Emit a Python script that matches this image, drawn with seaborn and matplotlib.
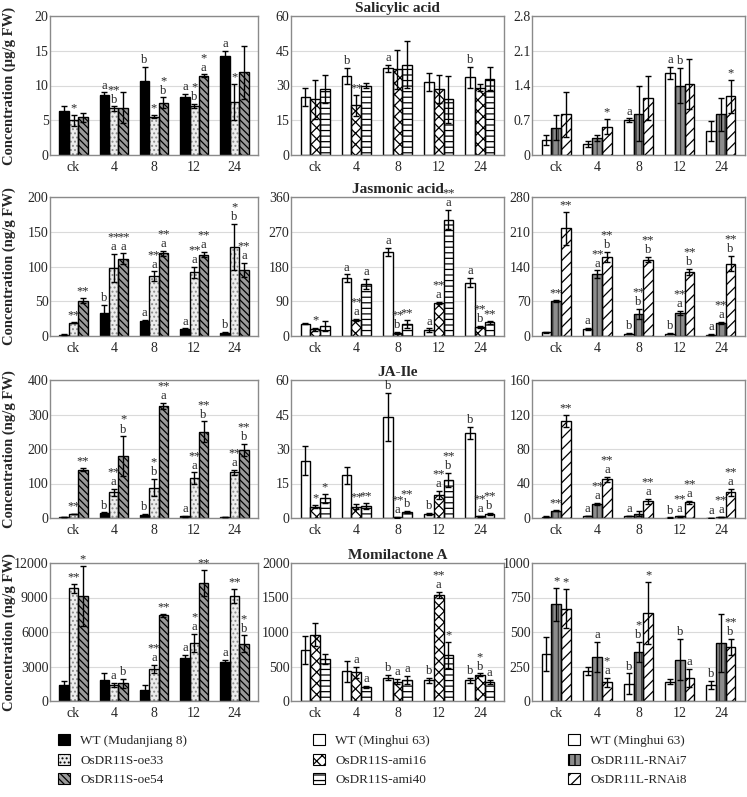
import numpy as np
import pandas as pd
import matplotlib
matplotlib.use("Agg")
import matplotlib.pyplot as plt
import seaborn as sns
from matplotlib.patches import Patch, Rectangle

# ---------------- data ----------------
times = ["ck", "4", "8", "12", "24"]
lines_oe = ["WT (Mudanjiang 8)", "OsDR11S-oe33", "OsDR11S-oe54"]
lines_ami = ["WT (Minghui 63)", "OsDR11S-ami16", "OsDR11S-ami40"]
lines_rnai = ["WT (Minghui 63)", "OsDR11L-RNAi7", "OsDR11L-RNAi8"]
titles = ["Salicylic acid", "Jasmonic acid", "JA-Ile", "Momilactone A"]
ylabels = ["Concentration (\u00b5g/g FW)", "Concentration (ng/g FW)",
           "Concentration (ng/g FW)", "Concentration (ng/g FW)"]

# Salicylic acid
sa_oe_mean = [[6.3, 8.7, 10.7, 8.4, 14.2], [5.0, 6.7, 5.5, 7.1, 7.6], [5.4, 6.8, 7.5, 11.4, 11.9]]
sa_oe_err = [[0.8, 0.3, 2.0, 0.4, 0.8], [0.8, 0.3, 0.2, 0.3, 2.6], [0.6, 2.2, 0.8, 0.2, 3.8]]
sa_oe_mark = [["", "a", "b", "a", "a"], ["*", "**\nb", "*", "*\nb", "*"], ["", "", "*\nb", "*\na", ""]]
sa_ami_mean = [[25, 34, 37.5, 31.5, 33.5], [24, 21.5, 37, 28.5, 29], [28.5, 30, 39, 24, 33]]
sa_ami_err = [[4, 3.5, 1.5, 4, 4.5], [8.5, 4.5, 8.5, 6, 1.5], [6, 1, 10, 10, 5]]
sa_ami_mark = [["", "b", "a", "", "b"], ["", "**", "", "", ""], ["", "", "", "", ""]]
sa_rnai_mean = [[0.30, 0.23, 0.70, 1.65, 0.48], [0.55, 0.35, 0.83, 1.40, 0.82], [0.82, 0.57, 1.15, 1.43, 1.18]]
sa_rnai_err = [[0.10, 0.06, 0.04, 0.12, 0.20], [0.25, 0.06, 0.55, 0.35, 0.33], [0.45, 0.15, 0.45, 0.50, 0.33]]
sa_rnai_mark = [["", "", "a", "a", ""], ["", "", "", "b", ""], ["", "*", "", "", "*"]]

# Jasmonic acid
ja_oe_mean = [[2, 33, 22, 10, 5], [19, 98, 86, 92, 128], [51, 111, 119, 117, 95]]
ja_oe_err = [[0.5, 12, 1, 1, 1], [1, 20, 7, 8, 33], [3, 8, 4, 4, 10]]
ja_oe_mark = [["", "b", "a", "a", "b"], ["**", "**\na", "**\na", "**\na", "*\nb"], ["**", "**\na", "**\na", "**\na", "**\na"]]
ja_ami_mean = [[32, 150, 218, 15, 138], [17, 42, 8, 85, 24], [25, 135, 31, 301, 35]]
ja_ami_err = [[1, 10, 10, 5, 12], [5, 3, 2, 3, 2], [13, 13, 10, 25, 3]]
ja_ami_mark = [["", "a", "a", "a", "a"], ["*", "**\na", "**\nb", "**\na", "**\nb"], ["", "a", "**", "**\na", "**"]]
ja_rnai_mean = [[8, 15, 5, 5, 3], [70, 124, 45, 47, 27], [217, 159, 154, 129, 146]]
ja_rnai_err = [[1, 2, 1, 1, 1], [2, 8, 10, 4, 2], [33, 10, 5, 6, 15]]
ja_rnai_mark = [["", "a", "b", "b", "a"], ["**", "**\na", "**\nb", "**\na", "**\na"], ["**", "**\nb", "**\nb", "**\nb", "**\nb"]]

# JA-Ile
jai_oe_mean = [[3, 14, 10, 5, 2], [12, 75, 88, 115, 132], [140, 180, 325, 250, 198]]
jai_oe_err = [[1, 2, 2, 1, 0.5], [1, 10, 25, 17, 8], [5, 57, 8, 30, 17]]
jai_oe_mark = [["", "b", "b", "a", ""], ["**", "**\na", "*\nb", "**\na", "**\na"], ["**", "*\nb", "**\na", "**\nb", "**\nb"]]
jai_ami_mean = [[25, 18.5, 44, 1.8, 37], [5, 5, 0.3, 10, 0.8], [8.5, 5.2, 2.5, 16.5, 1.8]]
jai_ami_err = [[6.5, 3.5, 10.5, 0.4, 2.5], [0.8, 1.2, 0.1, 1.8, 0.2], [2, 1.5, 0.5, 3, 0.3]]
jai_ami_mark = [["", "", "b", "b", "b"], ["*", "**", "**\na", "**\na", "**\na"], ["*", "**", "**\nb", "**\nb", "**\nb"]]
jai_rnai_mean = [[1.5, 2.5, 2.5, 0.5, 0.3], [8.5, 16.5, 5, 2, 1], [112, 45, 19.5, 18, 30]]
jai_rnai_err = [[0.3, 0.3, 0.3, 0.2, 0.1], [0.5, 1, 3, 0.3, 0.3], [7, 3, 3, 1.5, 4]]
jai_rnai_mark = [["", "a", "a", "b", "a"], ["**", "**\na", "", "**\na", "**\na"], ["**", "**\na", "**\na", "**\na", "**\na"]]

# Momilactone A
mom_oe_mean = [[1350, 1800, 950, 3750, 3350], [9800, 1400, 2800, 5050, 9100], [9150, 1550, 7450, 10250, 5000]]
mom_oe_err = [[400, 600, 400, 250, 250], [400, 200, 350, 800, 600], [2600, 400, 150, 1100, 700]]
mom_oe_mark = [["", "", "", "a", "a"], ["**", "a", "**\na", "*\na", "**"], ["*", "b", "**", "**", "*\nb"]]
mom_ami_mean = [[740, 430, 340, 300, 300], [960, 420, 280, 1540, 380], [610, 200, 305, 670, 280]]
mom_ami_err = [[200, 150, 40, 40, 40], [170, 80, 40, 40, 20], [70, 15, 60, 190, 30]]
mom_ami_mark = [["", "", "b", "b", "b"], ["", "a", "a", "**\na", "*\nb"], ["", "a", "a", "*", "a"]]
mom_rnai_mean = [[340, 215, 125, 140, 115], [700, 320, 355, 300, 420], [670, 135, 640, 170, 390]]
mom_rnai_err = [[125, 30, 75, 20, 30], [120, 110, 75, 150, 210], [140, 35, 225, 65, 60]]
mom_rnai_mark = [["", "", "b", "", "b"], ["*", "a", "*\nb", "b", ""], ["*", "*\na", "*", "a", "**\nb"]]

yticks_rows = [
    [[0, 5, 10, 15, 20], [0, 15, 30, 45, 60], [0, 0.7, 1.4, 2.1, 2.8]],
    [[0, 50, 100, 150, 200], [0, 90, 180, 270, 360], [0, 70, 140, 210, 280]],
    [[0, 100, 200, 300, 400], [0, 15, 30, 45, 60], [0, 40, 80, 120, 160]],
    [[0, 3000, 6000, 9000, 12000], [0, 500, 1000, 1500, 2000], [0, 250, 500, 750, 1000]],
]

panels = [
    [(sa_oe_mean, sa_oe_err, sa_oe_mark), (sa_ami_mean, sa_ami_err, sa_ami_mark), (sa_rnai_mean, sa_rnai_err, sa_rnai_mark)],
    [(ja_oe_mean, ja_oe_err, ja_oe_mark), (ja_ami_mean, ja_ami_err, ja_ami_mark), (ja_rnai_mean, ja_rnai_err, ja_rnai_mark)],
    [(jai_oe_mean, jai_oe_err, jai_oe_mark), (jai_ami_mean, jai_ami_err, jai_ami_mark), (jai_rnai_mean, jai_rnai_err, jai_rnai_mark)],
    [(mom_oe_mean, mom_oe_err, mom_oe_mark), (mom_ami_mean, mom_ami_err, mom_ami_mark), (mom_rnai_mean, mom_rnai_err, mom_rnai_mark)],
]
col_lines = [lines_oe, lines_ami, lines_rnai]

# ---------------- styles ----------------
# (facecolor, hatch, hatchcolor)
styles = [
    [("black", "", "black"), ("#ececec", "....", "#8a8a8a"), ("#9a9a9a", "\\\\\\\\\\", "black")],
    [("white", "", "black"), ("white", "xxx", "black"), ("white", "---", "black")],
    [("white", "", "black"), ("#8c8c8c", "|||", "#3a3a3a"), ("white", "///", "black")],
]

sns.set_theme(style="white")
plt.rcParams["font.family"] = ["Liberation Serif", "DejaVu Serif"]
plt.rcParams["hatch.linewidth"] = 0.9

W, H = 747, 797
fig = plt.figure(figsize=(W / 100, H / 100), dpi=100)

col_x = [(50, 258), (291, 504), (532, 745)]
row_y = [(16, 155), (197, 336), (380, 518), (563, 701)]

for r in range(4):
    for c in range(3):
        x0, x1 = col_x[c]
        t0, b0 = row_y[r]
        ax = fig.add_axes([x0 / W, 1 - b0 / H, (x1 - x0) / W, (b0 - t0) / H])
        means, errs, marks = panels[r][c]
        lines = col_lines[c]
        df = pd.DataFrame({
            "time": np.tile(times, 3),
            "line": np.repeat(lines, 5),
            "value": np.concatenate(means),
        })
        sns.barplot(data=df, x="time", y="value", hue="line", order=times,
                    hue_order=lines, errorbar=None, width=0.7, ax=ax,
                    legend=False, palette=[s[0] for s in styles[c]],
                    saturation=1)
        bar_conts = list(ax.containers)[:3]
        for h, cont in enumerate(bar_conts):
            fc, hatch, hc = styles[c][h]
            xs = []
            for i, p in enumerate(cont.patches):
                p.set_facecolor(fc)
                p.set_edgecolor(hc)
                p.set_hatch(hatch)
                p.set_linewidth(0)
                ax.add_patch(Rectangle((p.get_x(), p.get_y()), p.get_width(), p.get_height(),
                                       fill=False, edgecolor="black", linewidth=1.0, zorder=p.get_zorder() + 0.1))
                xs.append(p.get_x() + p.get_width() / 2)
            ax.errorbar(xs, means[h], yerr=errs[h], fmt="none", ecolor="black",
                        elinewidth=1.0, capsize=2, capthick=1.0, zorder=6)
            for i, m in enumerate(marks[h]):
                if m:
                    ax.annotate(m, (xs[i], means[h][i] + errs[h][i]), xytext=(0, 0.5),
                                textcoords="offset points", ha="center", va="bottom",
                                fontsize=9, linespacing=0.75, zorder=7)
        yt = yticks_rows[r][c]
        ax.set_ylim(yt[0], yt[-1])
        ax.set_yticks(yt)
        ax.set_yticklabels(["{:g}".format(round(v, 2)) for v in yt], fontsize=10)
        ax.set_xticks(range(5))
        ax.set_xticklabels(times, fontsize=10)
        ax.tick_params(axis="x", length=0, pad=4)
        ax.tick_params(axis="y", length=0, pad=1)
        ax.set_xlabel("")
        ax.set_ylabel("")
        ax.yaxis.grid(True, color="#dadada", linewidth=0.8)
        ax.set_axisbelow(True)
        for sp in ax.spines.values():
            sp.set_color("#8a8a8a")
            sp.set_linewidth(1.0)
        if c == 0:
            ax.set_ylabel(ylabels[r], fontsize=10.5, fontweight="bold")
            ax.yaxis.set_label_coords(-0.165, 0.5)
        if c == 1:
            ax.set_title(titles[r], fontsize=11, fontweight="bold", pad=3)

# ---------------- legend ----------------
leg_x = [58, 313, 568]
for c in range(3):
    handles = [Patch(facecolor=s[0], edgecolor="black", hatch=s[1], linewidth=0.8) for s in styles[c]]
    fig.legend(handles, col_lines[c], loc="upper left",
               bbox_to_anchor=(leg_x[c] / W, 1 - 734 / H), frameon=False,
               fontsize=9.5, handlelength=0.9, handleheight=0.9,
               labelspacing=0.5, handletextpad=0.8, borderaxespad=0, borderpad=0)

fig.savefig("out.png", dpi=100)
